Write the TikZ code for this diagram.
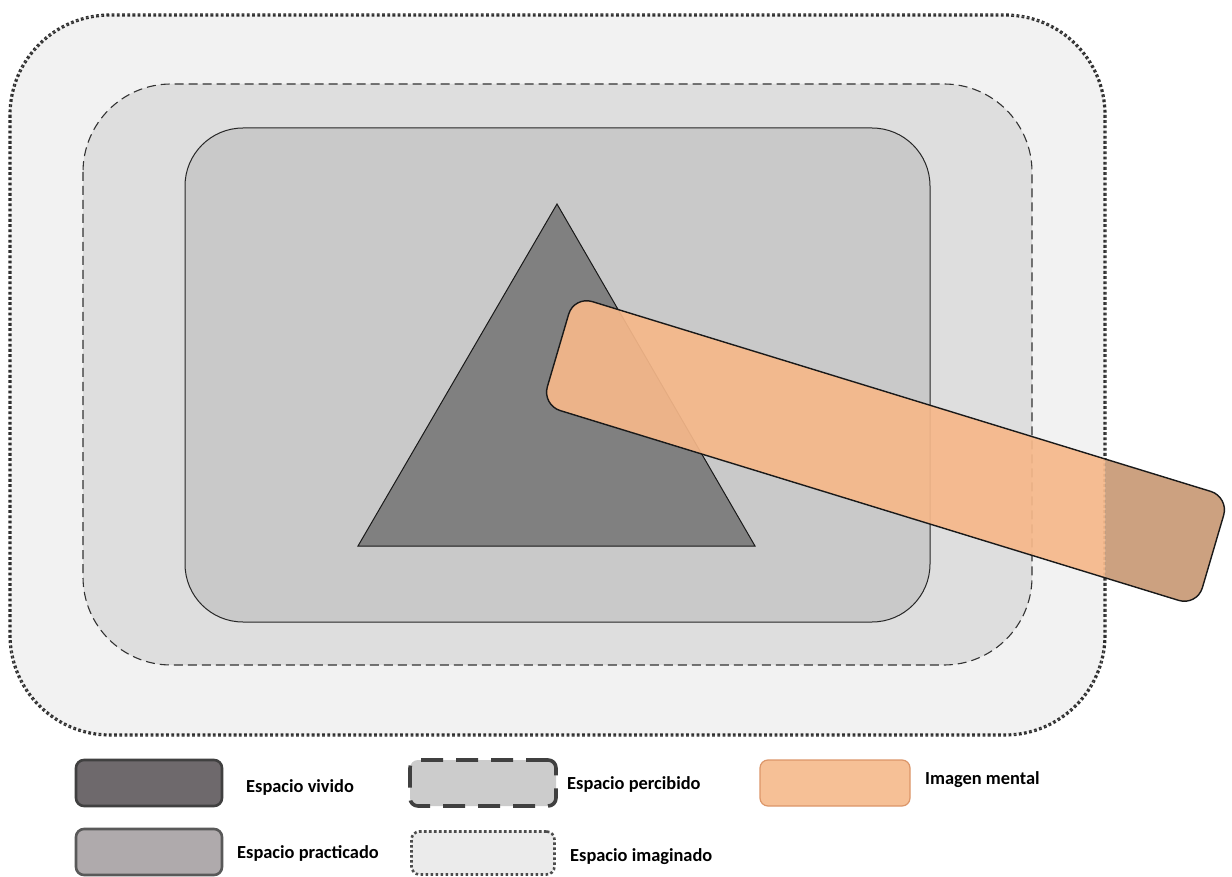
\documentclass[tikz,border=0pt]{standalone}
\usepackage{fontspec}
\setmainfont{Carlito}
\newcommand\mylayers{%
  \draw[outerbox] (10,15) rectangle (1105,735);
  \draw[midbox] (83,84) rectangle (1032,665);
  \draw[innerbox] (185,128) rectangle (930,622);
  \draw[tri] (ta) -- (tr) -- (tl) -- cycle;}
\begin{document}
\begin{tikzpicture}[x=1pt,y=-1pt,
  outerbox/.style={draw=black!82,line width=3.2pt,dash pattern=on 2.8pt off 2.4pt,fill=black!5,rounded corners=100pt},
  midbox/.style={draw=black!80,line width=1.1pt,dash pattern=on 9pt off 5pt,fill=black!13,rounded corners=88pt},
  innerbox/.style={draw=black!85,line width=1pt,fill=black!21,rounded corners=58pt},
  tri/.style={draw=black!90,line width=1pt,fill=black!50},
  barpath/.style={rounded corners=19pt},
  legbox/.style={minimum width=146pt,minimum height=46pt,rounded corners=8pt,inner sep=0pt},
  legtext/.style={font=\fontsize{18.4}{20}\selectfont\bfseries,anchor=west,inner sep=0pt}]
\useasboundingbox (0,0) rectangle (1232,877);
\fill[white] (0,0) rectangle (1232,877);
\coordinate (ta) at (557,204);
\coordinate (tl) at (358,546);
\coordinate (tr) at (755,546);
\coordinate (b1) at (574,296);
\coordinate (b2) at (1229,497);
\coordinate (b3) at (1197,606);
\coordinate (b4) at (542,405);
% nested boxes and triangle
\mylayers
% mental image bar: darker part outside the outer box
\fill[barpath,fill={rgb,255:red,204;green,161;blue,128}] (b1) -- (b2) -- (b3) -- (b4) -- cycle;
\begin{scope}
  \clip[rounded corners=100pt] (10,15) rectangle (1105,735);
  \mylayers
  \fill[barpath,fill={rgb,255:red,246;green,184;blue,138},fill opacity=0.92] (b1) -- (b2) -- (b3) -- (b4) -- cycle;
\end{scope}
\draw[barpath,line width=1.4pt,draw=black!90] (b1) -- (b2) -- (b3) -- (b4) -- cycle;
% legend
\node[legbox,draw=black!75,line width=2.6pt,fill={rgb,255:red,110;green,105;blue,108}] (l1) at (149,783) {};
\node[legtext] (t1) at (246,787) {Espacio vivido};
\node[legbox,draw=black!65,line width=2.6pt,fill={rgb,255:red,175;green,170;blue,172}] (l2) at (149,852) {};
\node[legtext] (t2) at (237,853) {Espacio practicado};
\node[legbox,draw=black!75,line width=3.6pt,dash pattern=on 22pt off 13pt,fill=black!20] (l3) at (483,783) {};
\node[legtext] (t3) at (567,784) {Espacio percibido};
\node[legbox,minimum width=143pt,minimum height=43pt,draw=black!70,line width=2.6pt,dash pattern=on 2.6pt off 2.4pt,fill=black!8] (l4) at (483,853) {};
\node[legtext] (t4) at (570,857) {Espacio imaginado};
\node[legbox,minimum width=150pt,draw={rgb,255:red,220;green,150;blue,105},line width=1.2pt,fill={rgb,255:red,246;green,192;blue,150}] (l5) at (835,783) {};
\node[legtext] (t5) at (925,780) {Imagen mental};
\end{tikzpicture}
\end{document}
